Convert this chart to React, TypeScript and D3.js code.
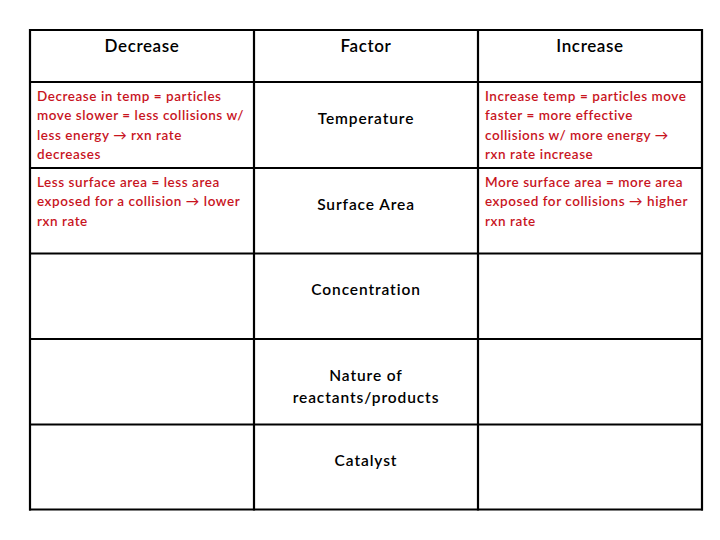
import React from "react";
import * as d3 from "d3";

const headers = ["Decrease", "Factor", "Increase"];
const factors = [["Temperature"], ["Surface Area"], ["Concentration"], ["Nature of", "reactants/products"], ["Catalyst"]];
const decreaseText = [
  ["Decrease in temp = particles", "move slower = less collisions w/", "less energy \u2192 rxn rate", "decreases"],
  ["Less surface area = less area", "exposed for a collision \u2192 lower", "rxn rate"],
  [], [], []
];
const increaseText = [
  ["Increase temp = particles move", "faster = more effective", "collisions w/ more energy \u2192", "rxn rate increase"],
  ["More surface area = more area", "exposed for collisions \u2192 higher", "rxn rate"],
  [], [], []
];
const rowEdges = [30, 82, 168, 253.5, 339, 424.5, 509.5];
const colEdges = [30, 254, 478, 702];

export default function App() {
  const W = 720, H = 540;
  const font = "Lato, 'DejaVu Sans', sans-serif";
  const red = "#c8141e";
  const cx = (i: number) => (colEdges[i] + colEdges[i + 1]) / 2;
  const lineH = 19.3;
  const y = d3.scaleLinear().domain([0, 1]).range([0, 1]);
  return (
    <svg width={W} height={H} style={{ position: "absolute", left: 0, top: 0, background: "#fff" }}>
      <rect x={0} y={0} width={W} height={H} fill="#fff" />
      {headers.map((h, i) => (
        <text key={h} x={cx(i)} y={y(51.5)} textAnchor="middle" fontFamily={font} fontWeight={600} letterSpacing={0.6} fontSize={17} fill="#000">{h}</text>
      ))}
      {factors.map((lines, r) => {
        const mid = (rowEdges[r + 1] + rowEdges[r + 2]) / 2;
        return lines.map((l, k) => (
          <text key={r + "-" + k} x={cx(1)} y={mid - 1 + k * 22} textAnchor="middle"
            fontFamily={font} fontWeight={600} letterSpacing={0.9} fontSize={15.5} fill="#000">{l}</text>
        ));
      })}
      {decreaseText.map((lines, r) => lines.map((l, k) => (
        <text key={"d" + r + k} x={37} y={rowEdges[r + 1] + 19 + k * lineH} fontFamily={font} fontWeight={600} letterSpacing={0.55} fontSize={13.5} fill={red}>{l}</text>
      )))}
      {increaseText.map((lines, r) => lines.map((l, k) => (
        <text key={"i" + r + k} x={485} y={rowEdges[r + 1] + 19 + k * lineH} fontFamily={font} fontWeight={600} letterSpacing={0.55} fontSize={13.5} fill={red}>{l}</text>
      )))}
      {rowEdges.map((yy, i) => (
        <line key={"r" + i} x1={colEdges[0] - 1} x2={colEdges[3] + 1} y1={yy} y2={yy} stroke="#000" strokeWidth={2.2} />
      ))}
      {colEdges.map((x, i) => (
        <line key={"c" + i} x1={x} x2={x} y1={rowEdges[0] - 1} y2={rowEdges[6] + 1} stroke="#000" strokeWidth={2.2} />
      ))}
    </svg>
  );
}
